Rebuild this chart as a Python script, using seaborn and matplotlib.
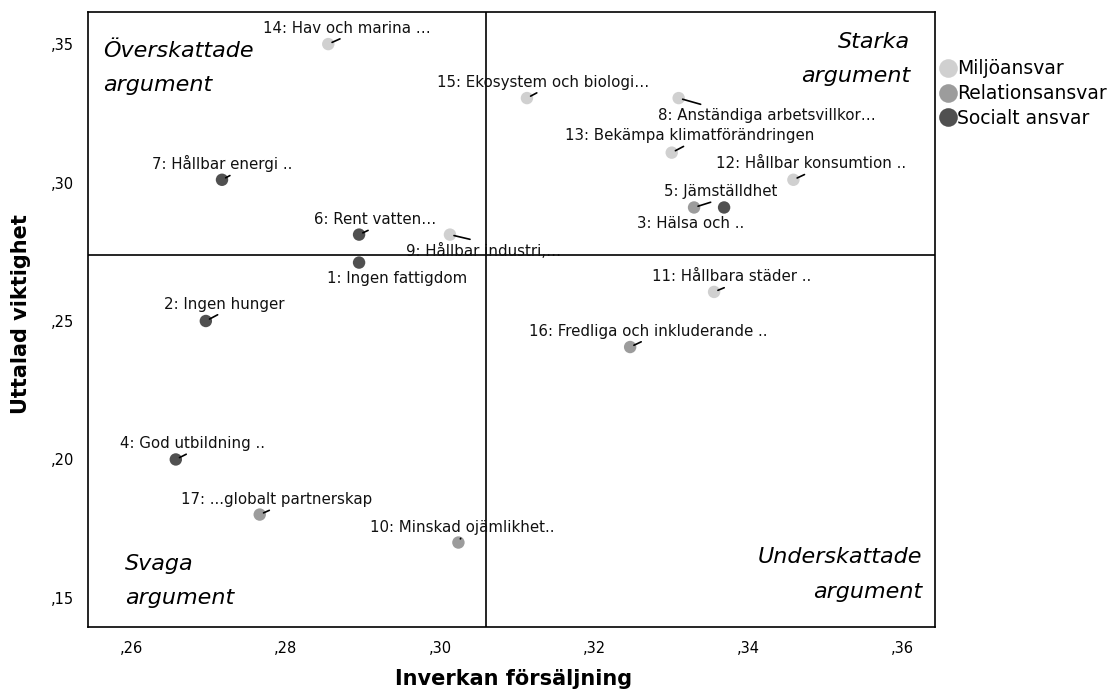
import matplotlib
matplotlib.use("Agg")
import matplotlib.pyplot as plt
import seaborn as sns
import pandas as pd

# ---- data ----
ids = [1, 2, 3, 4, 5, 6, 7, 8, 9, 10, 11, 12, 13, 14, 15, 16, 17]
labels = ["1: Ingen fattigdom", "2: Ingen hunger", "3: Hälsa och ..", "4: God utbildning ..",
          "5: Jämställdhet", "6: Rent vatten…", "7: Hållbar energi ..",
          "8: Anständiga arbetsvillkor…", "9: Hållbar industri,…", "10: Minskad ojämlikhet..",
          "11: Hållbara städer ..", "12: Hållbar konsumtion ..", "13: Bekämpa klimatförändringen",
          "14: Hav och marina …", "15: Ekosystem och biologi…", "16: Fredliga och inkluderande ..",
          "17: ...globalt partnerskap"]
inverkan = [0.2895, 0.2696, 0.3369, 0.2657, 0.3330, 0.2895, 0.2717, 0.3310, 0.3013, 0.3024,
            0.3356, 0.3459, 0.3301, 0.2855, 0.3113, 0.3247, 0.2766]
viktighet = [0.2711, 0.2500, 0.2910, 0.2000, 0.2910, 0.2812, 0.3010, 0.3305, 0.2812, 0.1700,
             0.2605, 0.3010, 0.3108, 0.3500, 0.3305, 0.2406, 0.1801]
grupp = ["Socialt ansvar", "Socialt ansvar", "Socialt ansvar", "Socialt ansvar", "Relationsansvar",
         "Socialt ansvar", "Socialt ansvar", "Miljöansvar", "Miljöansvar", "Relationsansvar",
         "Miljöansvar", "Miljöansvar", "Miljöansvar", "Miljöansvar", "Miljöansvar",
         "Relationsansvar", "Relationsansvar"]
group_order = ["Miljöansvar", "Relationsansvar", "Socialt ansvar"]
ref_x = 0.3060
ref_y = 0.2737
xticks = [0.26, 0.28, 0.30, 0.32, 0.34, 0.36]
yticks = [0.15, 0.20, 0.25, 0.30, 0.35]
quadrants = ["Överskattade\nargument", "Starka\nargument", "Svaga\nargument", "Underskattade\nargument"]

# ---- styling ----
palette = {"Miljöansvar": "#d0d0d0", "Relationsansvar": "#9c9c9c", "Socialt ansvar": "#505050"}
# label offsets in pixels (dx, dy; dy positive = up) and leader attach point on text box
label_style = {
    1: ((38, -16), None), 2: ((18, 17), (0.5, 0)), 3: ((-33, -16), None),
    4: ((17, 16), (0.5, 0)), 5: ((27, 16), (0.5, 0)), 6: ((16, 15), (0.5, 0)),
    7: ((0, 16), (0.6, 0)), 8: ((88, -17), (0.25, 1)), 9: ((34, -16), (0.5, 1)),
    10: ((4, 15), (0.5, 0)), 11: ((18, 15), (0.5, 0)), 12: ((18, 16), (0.5, 0)),
    13: ((18, 17), (0.5, 0)), 14: ((19, 16), (0.5, 0)), 15: ((16, 16), (0.5, 0)),
    16: ((18, 16), (0.5, 0)), 17: ((17, 15), (0.5, 0)),
}

df = pd.DataFrame({"id": ids, "label": labels, "x": inverkan, "y": viktighet, "grupp": grupp})

sns.set_style("white")
plt.rcParams["font.family"] = ["DejaVu Sans"]

fig = plt.figure(figsize=(11.14, 7.0), dpi=100)
ax = fig.add_axes([0.079, 0.1043, 0.7604, 0.8786])

sns.scatterplot(data=df, x="x", y="y", hue="grupp", hue_order=group_order, palette=palette,
                s=80, edgecolor="none", ax=ax, zorder=3, legend=True)

ax.axvline(ref_x, color="black", lw=1.2, zorder=1)
ax.axhline(ref_y, color="black", lw=1.2, zorder=1)

for _, r in df.iterrows():
    (dx, dy), rel = label_style[int(r["id"])]
    kw = {}
    if rel is not None:
        kw["arrowprops"] = dict(arrowstyle="-", color="black", lw=1.2, relpos=rel,
                                shrinkA=0, shrinkB=3)
    ax.annotate(r["label"], xy=(r["x"], r["y"]), xytext=(dx, dy), textcoords="offset pixels",
                ha="center", va="center", fontsize=10.8, color="#111111", zorder=4, **kw)

ax.set_xlim(0.2543, 0.3643)
ax.set_ylim(0.1395, 0.3616)
ax.set_xticks(xticks)
ax.set_xticklabels(["," + f"{v:.2f}".split(".")[1] for v in xticks], fontsize=10.5, color="black")
ax.set_yticks(yticks)
ax.set_yticklabels(["," + f"{v:.2f}".split(".")[1] for v in yticks], fontsize=10.5, color="black")
ax.tick_params(axis="x", length=0, pad=10)
ax.tick_params(axis="y", length=0, pad=10)
for sp in ax.spines.values():
    sp.set_color("black")
    sp.set_linewidth(1.2)
    sp.set_visible(True)

ax.set_xlabel("Inverkan försäljning", fontsize=15, fontweight="bold", color="black")
ax.set_ylabel("Uttalad viktighet", fontsize=15, fontweight="bold", color="black")
ax.xaxis.set_label_coords(0.502, -0.068)
ax.yaxis.set_label_coords(-0.067, 0.509)

qkw = dict(transform=ax.transAxes, fontsize=16, fontstyle="italic", color="black",
           linespacing=1.9)
ax.text(0.0177, 0.953, quadrants[0], ha="left", va="top", **qkw)
ax.text(0.9705, 0.968, quadrants[1], ha="right", va="top", multialignment="right", **qkw)
ax.text(0.0437, 0.031, quadrants[2], ha="left", va="bottom", **qkw)
ax.text(0.9847, 0.041, quadrants[3], ha="right", va="bottom", multialignment="right", **qkw)

leg = ax.legend(loc="upper left", bbox_to_anchor=(0.995, 0.935), frameon=False, fontsize=13.5,
                handletextpad=0.0, borderaxespad=0.0, labelspacing=0.3, handlelength=1.0,
                markerscale=1.5, title=None)
for t in leg.get_texts():
    t.set_color("black")

fig.savefig("out.png", dpi=100)
